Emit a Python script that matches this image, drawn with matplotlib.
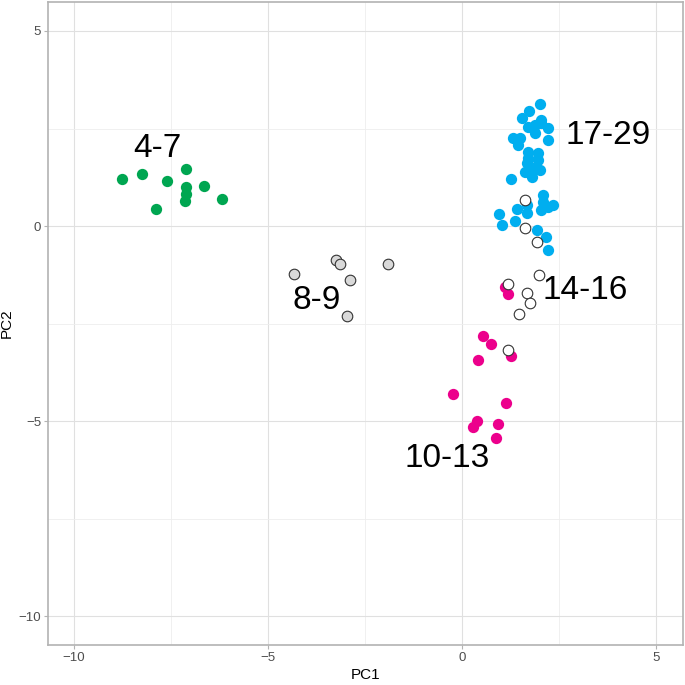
import matplotlib

matplotlib.use("Agg")
import matplotlib.pyplot as plt
import numpy as np

plt.rcParams["font.family"] = ["Liberation Sans", "DejaVu Sans"]

# --------------------------------------------------
# data (PC1, PC2)
# --------------------------------------------------
g47_x = [-8.76, -8.24, -7.60, -7.12, -7.10, -7.10, -7.14, -6.64, -6.19, -7.89]
g47_y = [1.20, 1.33, 1.15, 1.46, 1.01, 0.82, 0.63, 1.03, 0.69, 0.45]

g89_x = [-4.33, -3.25, -3.13, -2.89, -2.95, -1.90]
g89_y = [-1.22, -0.87, -0.97, -1.38, -2.30, -0.98]

g1013_x = [1.11, 1.18, 1.28, 0.55, 0.75, 0.42, -0.22, 1.15, 0.38, 0.28, 0.94, 0.87]
g1013_y = [-1.56, -1.73, -3.33, -2.82, -3.03, -3.42, -4.29, -4.53, -4.99, -5.14, -5.08, -5.42]

g1416_x = [1.64, 1.64, 1.94, 1.98, 1.20, 1.69, 1.75, 1.48, 1.20]
g1416_y = [0.67, -0.04, -0.40, -1.25, -1.49, -1.71, -1.98, -2.24, -3.18]

g1729_x = [2.01, 1.72, 1.56, 2.05, 1.71, 1.88, 2.05, 2.21, 1.88, 1.31, 1.51, 2.22,
           1.45, 1.71, 1.97, 1.71, 1.97, 1.67, 1.84, 2.01, 1.62, 1.82, 1.26, 2.08,
           2.10, 2.34, 2.22, 1.69, 1.41, 1.67, 2.04, 0.95, 1.37, 1.04, 1.94, 2.18, 2.22]
g1729_y = [3.12, 2.96, 2.76, 2.72, 2.55, 2.59, 2.64, 2.51, 2.38, 2.25, 2.25, 2.21,
           2.08, 1.91, 1.86, 1.74, 1.69, 1.61, 1.48, 1.44, 1.39, 1.25, 1.20, 0.79,
           0.62, 0.54, 0.50, 0.54, 0.43, 0.34, 0.41, 0.30, 0.13, 0.03, -0.09, -0.27, -0.62]

labels = ["4-7", "8-9", "17-29", "14-16", "10-13"]
label_x = [-7.86, -3.74, 3.76, 3.17, -0.39]
label_y = [2.0, -1.9, 2.31, -1.64, -5.95]

# --------------------------------------------------
# plot
# --------------------------------------------------
fig = plt.figure(figsize=(6.85, 6.85), dpi=100)
ax = fig.add_axes([0.070, 0.058, 0.927, 0.939])

ax.scatter(g47_x, g47_y, s=66, color="#00A651", linewidths=0, zorder=3)
ax.scatter(g1729_x, g1729_y, s=66, color="#00AEEF", linewidths=0, zorder=3)
ax.scatter(g1013_x, g1013_y, s=66, color="#EC008C", linewidths=0, zorder=3)
ax.scatter(g89_x, g89_y, s=58, facecolor="#D9D9D9", edgecolor="#333333",
           linewidths=0.8, zorder=4)
ax.scatter(g1416_x, g1416_y, s=58, facecolor="white", edgecolor="#333333",
           linewidths=0.8, zorder=4)

for t, x, y in zip(labels, label_x, label_y):
    ax.text(x, y, t, fontsize=24, ha="center", va="center", zorder=5)

ax.set_xlim(-10.67, 5.7)
ax.set_ylim(-10.74, 5.74)
ax.set_xticks([-10, -5, 0, 5])
ax.set_yticks([-10, -5, 0, 5])
ax.set_xticks(np.arange(-7.5, 5, 5), minor=True)
ax.set_yticks(np.arange(-7.5, 5, 5), minor=True)
ax.set_xticklabels(["\u221210", "\u22125", "0", "5"])
ax.set_yticklabels(["\u221210", "\u22125", "0", "5"])

ax.grid(True, which="major", color="#E0E0E0", lw=0.8)
ax.grid(True, which="minor", color="#EEEEEE", lw=0.6)
ax.set_axisbelow(True)
ax.tick_params(which="major", length=3, color="#B3B3B3", labelsize=9.5,
               labelcolor="#4D4D4D", pad=2)
ax.tick_params(which="minor", length=0)
for sp in ax.spines.values():
    sp.set_color("#B3B3B3")
    sp.set_linewidth(1.2)

ax.set_xlabel("PC1", fontsize=11, labelpad=3)
ax.set_ylabel("PC2", fontsize=11, labelpad=3)

fig.savefig("out.png", dpi=100)
